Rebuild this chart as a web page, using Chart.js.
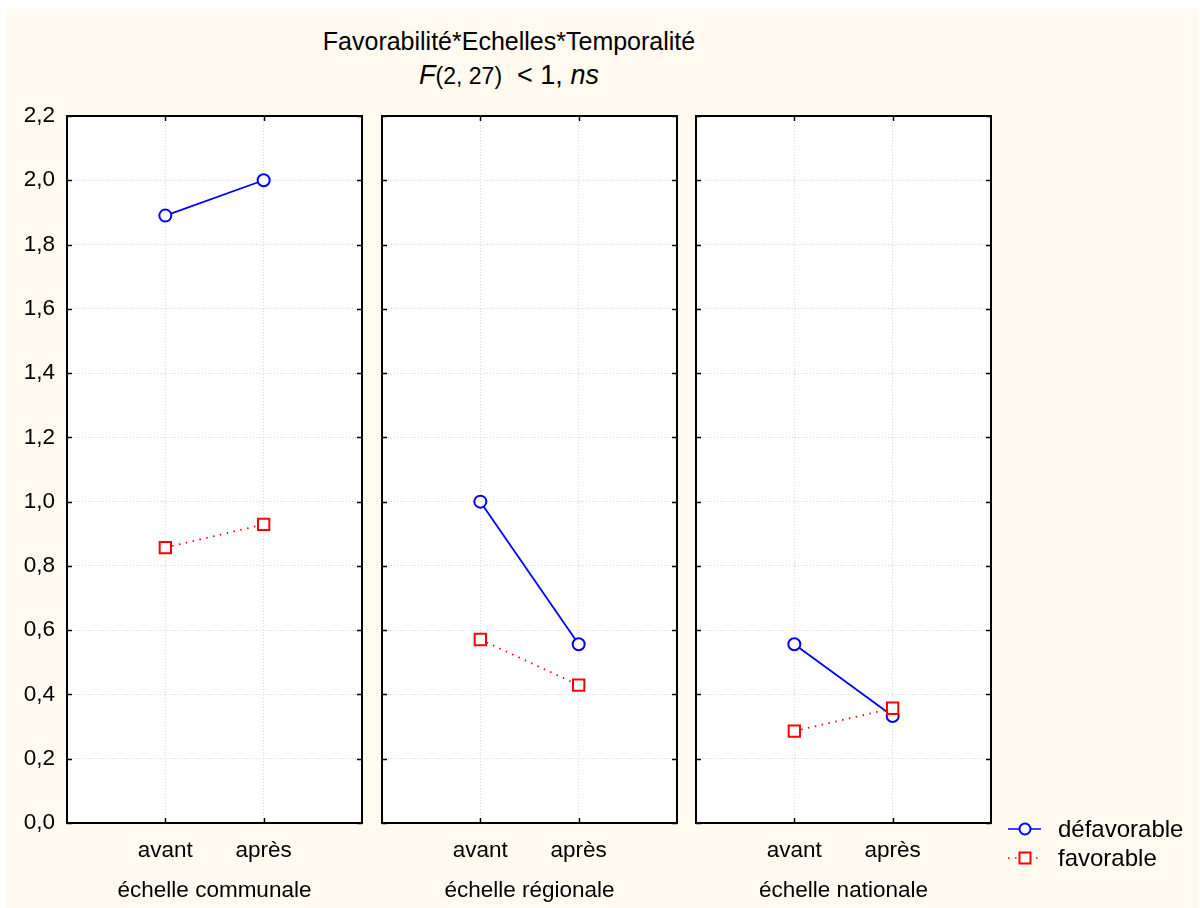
<!DOCTYPE html>
<html>
<head>
<meta charset="utf-8">
<script src="https://cdn.jsdelivr.net/npm/chart.js@4.4.1/dist/chart.umd.min.js"></script>
<style>
  body { margin: 0; background: #fff; width: 1200px; height: 908px; overflow: hidden; }
  #bg { position: absolute; left: 7px; top: 9px; width: 1191px; height: 899px; background: #fffaef; }
  canvas { position: absolute; left: 0; top: 0; }
  .title { position: absolute; left: 0; width: 1018px; text-align: center; font-family: 'Liberation Sans', Arial, sans-serif; color: #000; }
  #t1 { top: 27px; font-size: 25px; }
  #t2 { top: 60px; font-size: 27px; }
  #t2 .small { font-size: 23px; }
</style>
</head>
<body>
<div id="bg"></div>
<div class="title" id="t1">Favorabilité*Echelles*Temporalité</div>
<div class="title" id="t2"><i>F</i><span class="small">(2, 27)</span>&nbsp; &lt; 1, <i>ns</i></div>
<canvas id="c0" width="1200" height="908"></canvas>
<canvas id="c1" width="1200" height="908"></canvas>
<canvas id="c2" width="1200" height="908"></canvas>
<script>
const temps = ['avant', 'après'];
const echelles = ['échelle communale', 'échelle régionale', 'échelle nationale'];
const seriesNames = ['défavorable', 'favorable'];
// one pair (avant, après) per échelle
const defavorable = [[1.89, 2.0], [1.0, 0.556], [0.556, 0.333]];
const favorable = [[0.857, 0.929], [0.571, 0.429], [0.286, 0.357]];
const yMin = 0, yMax = 2.2, yStep = 0.2;

const panelLeft = [67, 382, 696];
const panelRight = [362, 677, 991];
const panelTop = 116, panelBottom = 823;
const font = "'Liberation Sans', Arial, sans-serif";

const blue = '#0000ff', red = '#ff0000';

const framePlugin = {
  id: 'frame',
  beforeDraw(chart) {
    const a = chart.chartArea, ctx = chart.ctx;
    ctx.save();
    ctx.fillStyle = '#ffffff';
    ctx.fillRect(a.left, a.top, a.right - a.left, a.bottom - a.top);
    ctx.restore();
  },
  afterDraw(chart) {
    const a = chart.chartArea, ctx = chart.ctx;
    const xs = chart.scales.x, ys = chart.scales.y;
    ctx.save();
    ctx.strokeStyle = '#000';
    ctx.lineWidth = 1.5;
    ctx.beginPath();
    ys.ticks.forEach(t => {
      const y = Math.round(ys.getPixelForValue(t.value)) + 0.5;
      ctx.moveTo(a.left, y); ctx.lineTo(a.left + 5, y);
      ctx.moveTo(a.right, y); ctx.lineTo(a.right - 5, y);
    });
    xs.ticks.forEach(t => {
      const x = Math.round(xs.getPixelForValue(t.value)) + 0.5;
      ctx.moveTo(x, a.top); ctx.lineTo(x, a.top + 5);
      ctx.moveTo(x, a.bottom); ctx.lineTo(x, a.bottom - 5);
    });
    ctx.stroke();
    ctx.lineWidth = 2;
    ctx.strokeRect(a.left, a.top, a.right - a.left, a.bottom - a.top);
    ctx.restore();
  }
};

const legendPlugin = {
  id: 'legendBox',
  afterDraw(chart) {
    const ctx = chart.ctx;
    const rows = [
      { y: 829, ds: chart.data.datasets[0] },
      { y: 858, ds: chart.data.datasets[1] }
    ];
    ctx.save();
    rows.forEach(r => {
      ctx.strokeStyle = r.ds.borderColor;
      ctx.lineWidth = 1.5;
      ctx.setLineDash(r.ds.borderDash || []);
      ctx.beginPath();
      ctx.moveTo(1008, r.y); ctx.lineTo(1041, r.y);
      ctx.stroke();
      ctx.setLineDash([]);
      ctx.fillStyle = '#fff';
      ctx.lineWidth = 2;
      ctx.beginPath();
      if (r.ds.pointStyle === 'circle') {
        ctx.arc(1025, r.y, 5.5, 0, Math.PI * 2);
      } else {
        ctx.rect(1019.5, r.y - 5.5, 11, 11);
      }
      ctx.fill();
      ctx.stroke();
      ctx.fillStyle = '#000';
      ctx.font = '24px ' + font;
      ctx.textBaseline = 'middle';
      ctx.fillText(r.ds.label, 1058, r.y + 1);
    });
    ctx.restore();
  }
};

function makePanel(i) {
  const first = i === 0;
  const datasets = [
    {
      label: seriesNames[0],
      data: defavorable[i].map((v, k) => ({ x: k + 1, y: v })),
      borderColor: blue,
      backgroundColor: '#ffffff',
      borderWidth: 1.8,
      pointStyle: 'circle',
      pointRadius: 6,
      pointBorderWidth: 2,
      order: 1
    },
    {
      label: seriesNames[1],
      data: favorable[i].map((v, k) => ({ x: k + 1, y: v })),
      borderColor: red,
      backgroundColor: '#ffffff',
      borderWidth: 1.8,
      borderDash: [1.5, 5.5],
      pointStyle: 'rect',
      pointRadius: 8,
      pointBorderWidth: 2,
      order: 0
    }
  ];
  const plugins = [framePlugin];
  if (i === 2) plugins.push(legendPlugin);

  return new Chart(document.getElementById('c' + i), {
    type: 'line',
    data: { datasets },
    plugins,
    options: {
      responsive: false,
      animation: false,
      layout: {
        padding: {
          left: first ? 7 : panelLeft[i],
          right: 1200 - panelRight[i],
          top: panelTop,
          bottom: 0
        }
      },
      plugins: { legend: { display: false }, tooltip: { enabled: false } },
      scales: {
        x: {
          type: 'linear',
          min: 0,
          max: 3,
          afterBuildTicks: s => { s.ticks = temps.map((t, k) => ({ value: k + 1 })); },
          afterFit: s => { s.height = 908 - panelBottom; },
          ticks: {
            callback: v => temps[v - 1],
            font: { family: font, size: 22.5 },
            color: '#000',
            padding: 14,
            maxRotation: 0
          },
          grid: { color: '#d8d8d8', drawTicks: false, lineWidth: 1 },
          border: { display: false, dash: [1, 2] },
          title: {
            display: true,
            text: echelles[i],
            font: { family: font, size: 22.5 },
            color: '#000',
            padding: { top: 0, bottom: 4 }
          }
        },
        y: {
          min: yMin,
          max: yMax,
          afterFit: s => { s.width = first ? panelLeft[0] - 7 : 0; },
          ticks: {
            display: first,
            stepSize: yStep,
            callback: v => v.toFixed(1).replace('.', ','),
            font: { family: font, size: 22.5 },
            color: '#000',
            padding: 12
          },
          grid: { color: '#d8d8d8', drawTicks: false, lineWidth: 1 },
          border: { display: false, dash: [1, 2] }
        }
      }
    }
  });
}

echelles.forEach((e, i) => makePanel(i));
</script>
</body>
</html>
